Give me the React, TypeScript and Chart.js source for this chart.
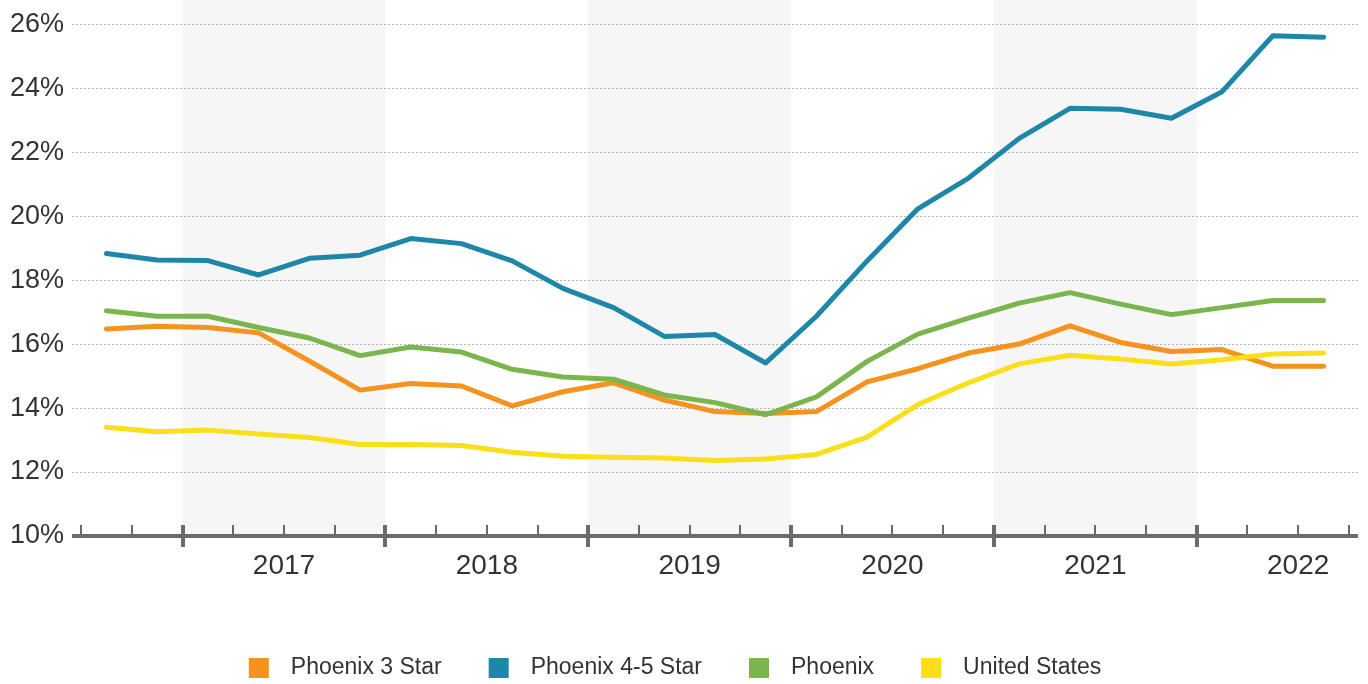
import React, { useEffect, useRef } from 'react';
import { Chart, registerables } from 'chart.js';

Chart.register(...registerables);

// Quarterly categories (2016 Q3 .. 2022 Q3)
const quarters = [
  '2016 Q3', '2016 Q4',
  '2017 Q1', '2017 Q2', '2017 Q3', '2017 Q4',
  '2018 Q1', '2018 Q2', '2018 Q3', '2018 Q4',
  '2019 Q1', '2019 Q2', '2019 Q3', '2019 Q4',
  '2020 Q1', '2020 Q2', '2020 Q3', '2020 Q4',
  '2021 Q1', '2021 Q2', '2021 Q3', '2021 Q4',
  '2022 Q1', '2022 Q2', '2022 Q3',
];

const phoenix3Star = [
  16.47, 16.56, 16.52, 16.35, 15.47, 14.56, 14.77, 14.69, 14.07, 14.51, 14.79, 14.25, 13.89,
  13.83, 13.89, 14.82, 15.23, 15.72, 16.0, 16.57, 16.05, 15.77, 15.83, 15.31, 15.31,
];
const phoenix45Star = [
  18.83, 18.63, 18.61, 18.16, 18.68, 18.78, 19.3, 19.14, 18.6, 17.74, 17.14, 16.24, 16.3,
  15.41, 16.87, 18.6, 20.23, 21.19, 22.43, 23.37, 23.34, 23.06, 23.89, 25.64, 25.59,
];
const phoenixAll = [
  17.04, 16.87, 16.87, 16.52, 16.19, 15.64, 15.91, 15.75, 15.21, 14.97, 14.9, 14.41, 14.17,
  13.79, 14.35, 15.46, 16.31, 16.81, 17.28, 17.61, 17.25, 16.92, 17.14, 17.36, 17.36,
];
const unitedStates = [
  13.4, 13.26, 13.31, 13.19, 13.08, 12.86, 12.86, 12.83, 12.62, 12.49, 12.46, 12.44, 12.36,
  12.41, 12.55, 13.09, 14.11, 14.79, 15.38, 15.65, 15.53, 15.38, 15.51, 15.69, 15.72,
];

const seriesNames = ['Phoenix 3 Star', 'Phoenix 4-5 Star', 'Phoenix', 'United States'];
const seriesColors = ['#F6921E', '#1E87A8', '#7AB54E', '#FDDE1A'];
const seriesOrder = [3, 0, 1, 2];

const yearLabels = ['2017', '2018', '2019', '2020', '2021', '2022'];
const shadedYears = ['2017', '2019', '2021'];
const yTickValues = [10, 12, 14, 16, 18, 20, 22, 24, 26];

const FONT = '"Liberation Sans", Arial, Helvetica, sans-serif';

// index in quarters of the first quarter of a year
const yearStart = (yr: string) => quarters.findIndex((q) => q.startsWith(yr));

const decorPlugin = {
  id: 'decor',
  beforeDraw(chart: any) {
    const { ctx, scales } = chart;
    const x = scales.x;
    const y = scales.y;
    const base = y.getPixelForValue(yTickValues[0]);
    ctx.save();
    ctx.fillStyle = '#F6F6F6';
    shadedYears.forEach((yr) => {
      const s = yearStart(yr);
      const x0 = x.getPixelForValue(s);
      const x1 = x.getPixelForValue(s + 4);
      ctx.fillRect(x0, 0, x1 - x0, base);
    });
    ctx.restore();
  },
  afterDraw(chart: any) {
    const { ctx, scales, chartArea } = chart;
    const x = scales.x;
    const y = scales.y;
    const base = y.getPixelForValue(yTickValues[0]);
    ctx.save();
    // axis line
    ctx.strokeStyle = '#6B6B6B';
    ctx.lineWidth = 4;
    ctx.beginPath();
    ctx.moveTo(chartArea.left, base);
    ctx.lineTo(chartArea.right, base);
    ctx.stroke();
    // ticks
    const majors = yearLabels.map(yearStart);
    for (let i = 0; i <= quarters.length; i++) {
      const px = Math.round(x.getPixelForValue(i));
      if (majors.includes(i)) {
        ctx.lineWidth = 4;
        ctx.beginPath();
        ctx.moveTo(px, base - 11);
        ctx.lineTo(px, base + 11);
        ctx.stroke();
      } else {
        ctx.lineWidth = 2;
        ctx.beginPath();
        ctx.moveTo(px, base - 11);
        ctx.lineTo(px, base);
        ctx.stroke();
      }
    }
    // year labels
    ctx.fillStyle = '#333333';
    ctx.font = `28px ${FONT}`;
    ctx.textAlign = 'center';
    ctx.textBaseline = 'middle';
    yearLabels.forEach((yr) => {
      const s = yearStart(yr);
      ctx.fillText(yr, x.getPixelForValue(s + 2), base + 30);
    });
    // legend
    ctx.font = `23px ${FONT}`;
    ctx.textAlign = 'left';
    const box = 20;
    const gap = 22;
    const itemGap = 47;
    const items = chart.data.datasets.map((ds: any) => ({
      label: ds.label,
      color: ds.borderColor,
      w: ctx.measureText(ds.label).width,
    }));
    const total =
      items.reduce((a: number, it: any) => a + box + gap + it.w, 0) + itemGap * (items.length - 1);
    let cx = (chartArea.left + chartArea.right) / 2 - 40 - total / 2;
    const ly = 668;
    items.forEach((it: any) => {
      ctx.fillStyle = it.color;
      ctx.fillRect(cx, ly - box / 2, box, box);
      ctx.fillStyle = '#333333';
      ctx.fillText(it.label, cx + box + gap, ly);
      cx += box + gap + it.w + itemGap;
    });
    ctx.restore();
  },
};

export default function App() {
  const canvasRef = useRef<HTMLCanvasElement | null>(null);

  useEffect(() => {
    const canvas = canvasRef.current;
    if (!canvas) return;
    const values = [phoenix3Star, phoenix45Star, phoenixAll, unitedStates];
    const chart = new Chart(canvas, {
      type: 'line',
      data: {
        datasets: values.map((vals, k) => ({
          label: seriesNames[k],
          data: vals.map((v, i) => ({ x: i + 0.5, y: v })),
          borderColor: seriesColors[k],
          backgroundColor: seriesColors[k],
          borderWidth: 5,
          pointRadius: 0,
          pointHoverRadius: 0,
          tension: 0,
          fill: false,
          borderCapStyle: 'round',
          borderJoinStyle: 'round',
          order: seriesOrder[k],
        })),
      },
      options: {
        animation: false,
        responsive: false,
        maintainAspectRatio: false,
        events: [],
        layout: { padding: { top: 21, right: 10, bottom: 148, left: 0 } },
        plugins: {
          legend: { display: false },
          tooltip: { enabled: false },
        },
        scales: {
          x: {
            type: 'linear',
            display: false,
            min: -0.18,
            max: quarters.length + 0.18,
          },
          y: {
            type: 'linear',
            min: yTickValues[0],
            max: yTickValues[yTickValues.length - 1],
            afterFit: (scale: any) => {
              scale.width = 72;
            },
            afterBuildTicks: (scale: any) => {
              scale.ticks = yTickValues.map((v) => ({ value: v }));
            },
            ticks: {
              padding: 8,
              color: '#333333',
              font: { family: FONT, size: 27 },
              callback: (v: any) => `${v}%`,
            },
            border: { display: false, dash: [2, 2] },
            grid: {
              drawTicks: false,
              lineWidth: 1,
              color: (ctx: any) =>
                ctx.tick && ctx.tick.value === yTickValues[0] ? 'rgba(0,0,0,0)' : '#B5B5B5',
            },
          },
        },
      },
      plugins: [decorPlugin],
    });
    return () => chart.destroy();
  }, []);

  return (
    <div style={{ position: 'absolute', left: 0, top: 0, width: 1368, height: 684, background: '#fff' }}>
      <canvas ref={canvasRef} width={1368} height={684} style={{ display: 'block' }} />
    </div>
  );
}
